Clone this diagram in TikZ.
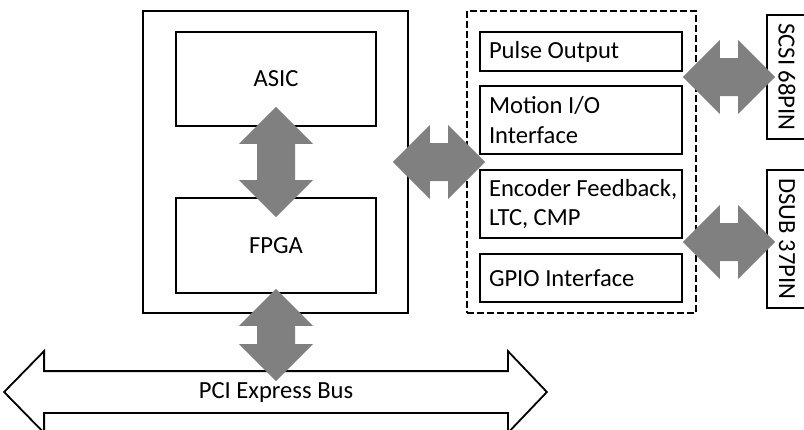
\documentclass[tikz,border=0pt]{standalone}
\usepackage{fontspec}
\setmainfont{Carlito}
\usetikzlibrary{calc}

% gray two-headed block arrow between two points
\newcommand{\dblarrow}[2]{%
  \fill[gray] (#1) -- ($(#1)!18.5pt!(#2)!18.5pt!90:(#2)$) -- ($(#1)!18.5pt!(#2)!9.5pt!90:(#2)$)
    -- ($(#2)!18.5pt!(#1)!9.5pt!-90:(#1)$) -- ($(#2)!18.5pt!(#1)!18.5pt!-90:(#1)$) -- (#2)
    -- ($(#2)!18.5pt!(#1)!18.5pt!90:(#1)$) -- ($(#2)!18.5pt!(#1)!9.5pt!90:(#1)$)
    -- ($(#1)!18.5pt!(#2)!9.5pt!-90:(#2)$) -- ($(#1)!18.5pt!(#2)!18.5pt!-90:(#2)$) -- cycle;}

\begin{document}
\begin{tikzpicture}[x=0.5pt, y=-0.5pt, line width=0.9pt,
    every node/.style={font=\fontsize{12.3}{14.6}\selectfont},
    chip/.style={draw, minimum width=100pt, inner sep=0pt},
    func/.style={draw, text width=92pt, align=flush left, inner xsep=4.5pt, inner ysep=0pt},
    conn/.style={draw, rotate=-90, minimum height=20pt, inner sep=0pt}]
    \useasboundingbox (0,0) rectangle (804,429);
    \clip (0,0) rectangle (804,429);

    % board
    \node[draw, minimum width=132.5pt, minimum height=151pt] (card) at (275.5,162) {};
    \node[chip, minimum height=47pt] (asic) at (276,79) {ASIC};
    \node[chip, minimum height=47.5pt] (fpga) at (276,245.5) {FPGA};

    % motion functions
    \node[draw, dashed, dash pattern=on 3.5pt off 1.5pt, minimum width=114.5pt, minimum height=151pt] (io) at (581.5,162) {};
    \node[func, minimum height=19.5pt] (pulse) at (581,51.5) {Pulse Output};
    \node[func, minimum height=34pt] (motion) at (581,120) {Motion I/O\\Interface};
    \node[func, minimum height=34pt] (encoder) at (581,204) {\mbox{Encoder Feedback,}\\LTC, CMP};
    \node[func, minimum height=24pt] (gpio) at (581,278) {GPIO Interface};

    % connectors
    \node[conn, minimum width=62pt] (scsi) at (787,77) {SCSI 68PIN};
    \node[conn, minimum width=69pt] (dsub) at (787,239) {DSUB 37PIN};

    % bus
    \node[minimum width=231pt, minimum height=20pt, inner sep=0pt] (bus) at (276,392) {PCI Express Bus};
    \draw (bus.north west) -- (bus.north east) -- ($(bus.north east)+(0,-20)$) -- ($(bus.east)+(39,0)$)
          -- ($(bus.south east)+(0,20)$) -- (bus.south east) -- (bus.south west)
          -- ($(bus.south west)+(0,20)$) -- ($(bus.west)+(-40,0)$) -- ($(bus.north west)+(0,-20)$) -- cycle;

    \coordinate (a1) at ($(asic.south)+(0,-20)$);
    \coordinate (b1) at ($(fpga.north)+(0,20)$);
    \coordinate (a2) at ($(fpga.south)+(0,-5)$);
    \coordinate (b2) at ($(bus.north)+(0,10)$);
    \coordinate (a3) at ($(card.east)+(-16,0)$);
    \coordinate (b3) at ($(io.west)+(19,0)$);
    \coordinate (a4) at (pulse.east |- scsi.center);
    \coordinate (b4) at ($(scsi.center)+(-12,0)$);
    \coordinate (a5) at ($(encoder.east |- dsub.center)+(0,3)$);
    \coordinate (b5) at ($(dsub.center)+(-12,3)$);

    \dblarrow{a1}{b1}
    \dblarrow{a2}{b2}
    \dblarrow{a3}{b3}
    \dblarrow{a4}{b4}
    \dblarrow{a5}{b5}
\end{tikzpicture}
\end{document}
